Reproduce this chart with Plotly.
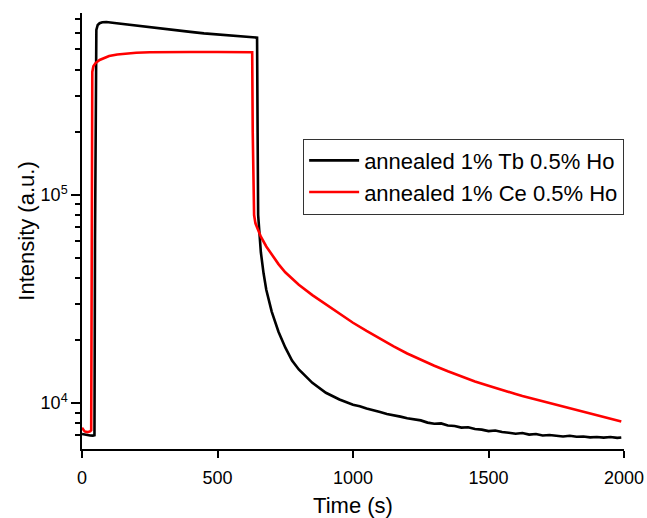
import plotly.graph_objects as go

# ---- data ----
tb_time = [0, 10, 20, 30, 40, 46, 48, 50, 53, 58, 65, 75, 90, 120, 160, 200, 250, 300, 350, 400,
           450, 500, 550, 600, 640, 646, 648, 650, 655, 660, 670, 680, 700, 725, 750, 775, 800,
           850, 900, 950,
           1000, 1025, 1050, 1075, 1100, 1125, 1150, 1175, 1200, 1225, 1250, 1275, 1300, 1325,
           1350, 1375, 1400, 1425, 1450, 1475, 1500, 1525, 1550, 1575, 1600, 1625, 1650, 1675,
           1700, 1725, 1750, 1775, 1800, 1825, 1850, 1875, 1900, 1925, 1950, 1975, 1990]
tb_int = [7100, 7050, 7000, 6980, 6970, 7000, 60000, 400000, 620000, 655000, 668000, 675000, 677000,
          670000, 660000, 650000, 638000, 628000, 618000, 607000, 597000, 590000, 584000, 578000,
          573000, 570000, 200000, 80000, 65000, 53000, 42000, 35000, 27500, 22000, 18500, 16000,
          14500, 12500, 11200, 10400,
          9800, 9650, 9400, 9250, 9050, 8850, 8750, 8600, 8450, 8350, 8250, 8050, 7950, 7980,
          7800, 7750, 7620, 7650, 7500, 7450, 7330, 7380, 7250, 7200, 7120, 7180, 7050, 7100,
          6980, 7020, 6950, 6900, 6960, 6880, 6900, 6840, 6870, 6820, 6860, 6800, 6830]

ce_time = [0, 5, 10, 20, 30, 34, 35, 36, 38, 42, 50, 65, 80, 100, 130, 160, 200, 250, 300, 400,
           500, 600, 625, 628, 630, 632, 635, 640, 650, 660, 680, 700, 725, 750, 775, 800, 850, 900,
           950, 1000, 1050, 1100, 1150, 1200, 1250, 1300, 1350, 1400, 1450, 1500, 1525, 1550, 1575,
           1600, 1625, 1650, 1675, 1700, 1725, 1750, 1775, 1800, 1825, 1850, 1875, 1900, 1925,
           1950, 1975, 1990]
ce_int = [7600, 7400, 7300, 7250, 7300, 7400, 60000, 300000, 390000, 415000, 430000, 445000, 455000,
          465000, 473000, 478000, 482000, 485000, 486000, 486000, 486000, 486000, 486000, 485000,
          200000, 90000, 80000, 73000, 67000, 63000, 56500, 51500, 46500, 42500, 39500, 37000, 33000,
          29700, 26800, 24300, 22200, 20300, 18700, 17300, 16100, 15100, 14200, 13400, 12700, 12100,
          11850, 11600, 11300, 11050, 10800, 10600, 10350, 10150, 9950, 9780, 9600, 9420, 9250,
          9100, 8920, 8760, 8600, 8450, 8280, 8150]

series_names = ["annealed 1% Tb 0.5% Ho", "annealed 1% Ce 0.5% Ho"]
x_ticks = [0, 500, 1000, 1500, 2000]
y_ticks = [1e4, 1e5]
y_ticktext = ["10<sup>4</sup>", "10<sup>5</sup>"]
y_minor = [6e3, 7e3, 8e3, 9e3, 2e4, 3e4, 4e4, 5e4, 6e4, 7e4, 8e4, 9e4,
           2e5, 3e5, 4e5, 5e5, 6e5, 7e5]

FONT = "Liberation Sans, Arial, sans-serif"

fig = go.Figure()
fig.add_trace(go.Scatter(x=tb_time, y=tb_int, mode="lines", name=series_names[0],
                         line=dict(color="black", width=2.6)))
fig.add_trace(go.Scatter(x=ce_time, y=ce_int, mode="lines", name=series_names[1],
                         line=dict(color="#ff0000", width=2.6)))

fig.update_layout(
    width=647, height=518,
    margin=dict(l=82, r=23, t=13, b=69),
    paper_bgcolor="white", plot_bgcolor="white",
    font=dict(family=FONT, color="black", size=18),
    showlegend=True,
    legend=dict(x=0.408, y=0.712, xanchor="left", yanchor="top",
                bordercolor="#333", borderwidth=1, bgcolor="white", itemwidth=50,
                font=dict(size=22, family=FONT), tracegroupgap=0),
)
fig.update_xaxes(range=[0, 2000], tickvals=x_ticks, ticks="outside", ticklen=7, tickwidth=1.5,
                 tickcolor="black", showline=True, linewidth=1.5, linecolor="black",
                 showgrid=False, zeroline=False, tickfont=dict(size=18), automargin=False,
                 ticklabelstandoff=5,
                 title=dict(text="Time (s)", font=dict(size=22), standoff=12))
fig.update_yaxes(type="log", range=[3.779, 5.874], tickvals=y_ticks, ticktext=y_ticktext,
                 ticks="outside", ticklen=9, tickwidth=1.5, tickcolor="black",
                 showline=True, linewidth=1.5, linecolor="black", showgrid=False, zeroline=False,
                 tickfont=dict(size=18), automargin=False,
                 minor=dict(tickvals=y_minor, ticks="outside", ticklen=5, tickwidth=1.5,
                            tickcolor="black", showgrid=False),
                 title=dict(text="Intensity (a.u.)", font=dict(size=22), standoff=0))

fig.write_html("out.html", config={"displayModeBar": False},
               post_script="document.body.style.margin='0';")
